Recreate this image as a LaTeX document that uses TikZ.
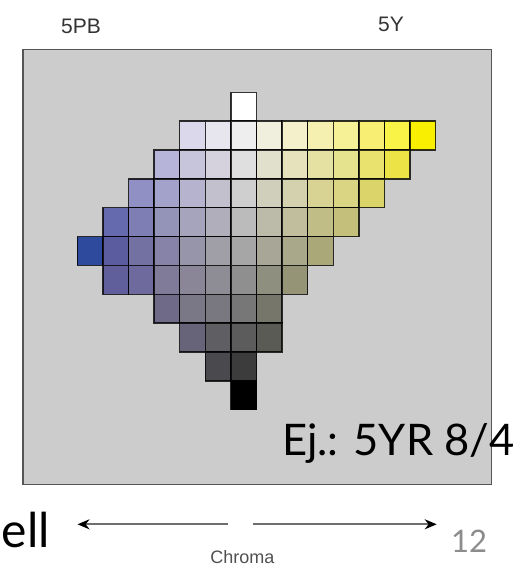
\documentclass[tikz,border=0pt]{standalone}
\usepackage{fontspec}
\setmainfont{Liberation Sans}
\newfontfamily\latofont{Lato}
\usetikzlibrary{arrows.meta}
\definecolor{framegray}{HTML}{CCCCCC}
\definecolor{frameline}{HTML}{555555}
\definecolor{hue}{HTML}{333333}
\definecolor{arrowline}{HTML}{6E6E6E}
\definecolor{chromatext}{HTML}{505050}
\definecolor{pagenum}{HTML}{8C8C8C}
\begin{document}
\begin{tikzpicture}[x=1pt,y=-1pt,
  cell/.style={draw=black, draw opacity=0.8, line width=1.4pt, minimum width=25.6pt,
    minimum height=28.85pt, inner sep=0pt, outer sep=0pt},
  panel/.style={draw=frameline, fill=framegray, line width=1.2pt, inner sep=0pt,
    minimum width=468.5pt, minimum height=434.5pt},
  huelabel/.style={font=\fontsize{21}{21}\selectfont, text=hue, inner sep=0pt, anchor=base west},
  chromaarrow/.style={draw=arrowline, line width=2pt,
    -{Stealth[length=12pt,width=10pt,color=black]}}
]
\useasboundingbox (0,0) rectangle (531,568);
\node[panel] (frame) at (257.25,267.05) {};
\foreach \r/\c/\h in {
  0/6/FFFFFF,
  1/4/DAD8EA, 1/5/E7E6EE, 1/6/EEEEEE, 1/7/F0EEDC, 1/8/F3F0CB, 1/9/F5F0B0, 1/10/F6F097, 1/11/F8EE74, 1/12/F9F247, 1/13/F8F000,
  2/3/B7B4D9, 2/4/C6C5DB, 2/5/D5D2DE, 2/6/DFDFDF, 2/7/E1E0CD, 2/8/E5E2BC, 2/9/E4E1A3, 2/10/E5E38E, 2/11/E9E26E, 2/12/ECE447,
  3/2/9190C5, 3/3/A3A2CA, 3/4/B6B3CE, 3/5/C2C0CD, 3/6/CFCFCF, 3/7/D0CFBC, 3/8/D4D1AE, 3/9/D8D393, 3/10/DAD583, 3/11/DAD46B,
  4/1/656AAE, 4/2/7F7EB4, 4/3/9494B8, 4/4/A6A4BC, 4/5/B0AEBA, 4/6/BBBBBB, 4/7/BCBBAA, 4/8/C0BE9C, 4/9/C0BD87, 4/10/C4C07B,
  5/0/2E4A9C, 5/1/5A5C9F, 5/2/7370A2, 5/3/8783A8, 5/4/9795AA, 5/5/A09FA8, 5/6/A6A6A6, 5/7/A8A697, 5/8/A9A88A, 5/9/AAA779,
  6/1/605F9C, 6/2/6E6A9E, 6/3/7F7B99, 6/4/8A8698, 6/5/8E8C94, 6/6/8F8F8F, 6/7/8F8F80, 6/8/959477,
  7/3/6F6A88, 7/4/7A7787, 7/5/797881, 7/6/777777, 7/7/76766A,
  8/4/67647A, 8/5/5F5E63, 8/6/5C5C5C, 8/7/5B5B55,
  9/5/4A494E, 9/6/3C3C3C,
  10/6/000000} {
  \definecolor{cc}{HTML}{\h}
  \node[cell, fill=cc] (c-\r-\c) at ({90.1+25.6*\c}, {106.725+28.85*\r}) {};
}
\node[huelabel] (pb) at (61,33) {5PB};
\node[huelabel] (y) at (378,31) {5Y};
\node[inner sep=0pt, anchor=base west, font=\latofont\fontsize{43.5}{43.5}\selectfont] (ej) at (282,455) {Ej.: 5YR 8/4};
\node[inner sep=0pt, anchor=base east, font=\latofont\fontsize{48}{48}\selectfont] (ell) at (50,547) {ell};
\node[inner sep=0pt, anchor=base west, text=pagenum, font=\latofont\fontsize{31}{31}\selectfont] (num) at (451,552) {12};
\node[inner sep=0pt, anchor=base, text=chromatext, font=\fontsize{18}{18}\selectfont] (chroma) at (242.5,563) {Chroma};
\coordinate (lstart) at (228,524.3);
\coordinate (lend) at (77.5,524.3);
\coordinate (rstart) at (253,524.3);
\coordinate (rend) at (436.7,524.3);
\draw[chromaarrow] (lstart) -- (lend);
\draw[chromaarrow] (rstart) -- (rend);
\end{tikzpicture}
\end{document}
